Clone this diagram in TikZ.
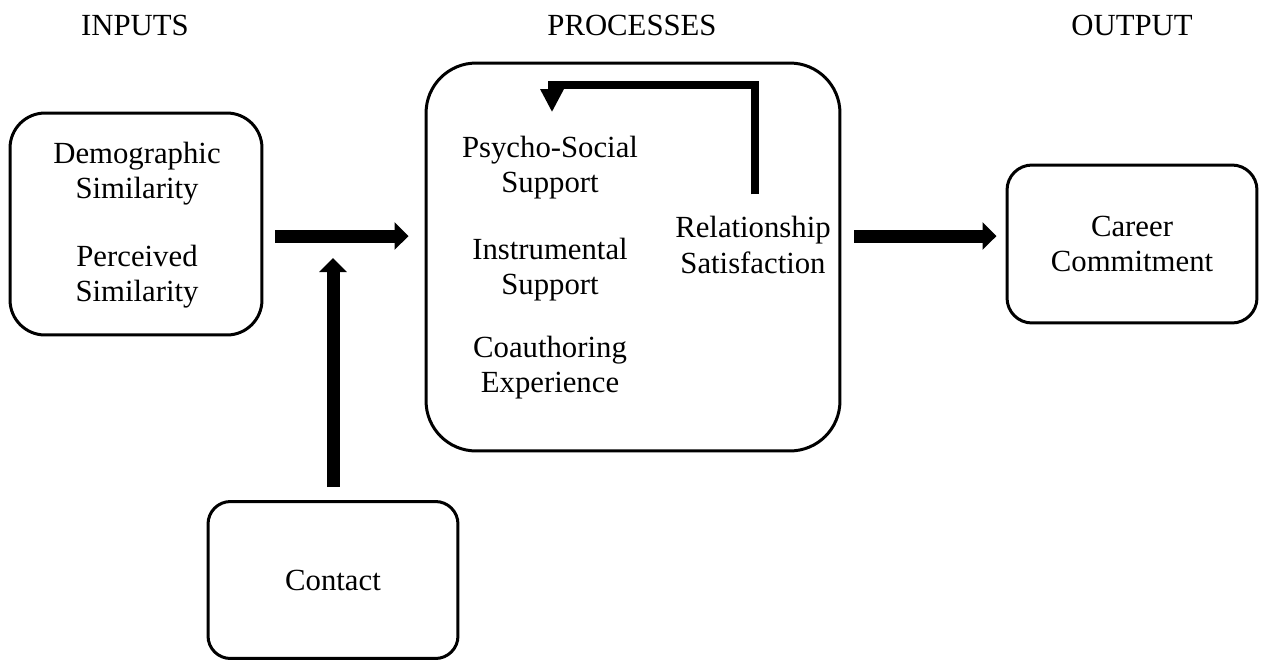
\documentclass[tikz,border=0pt]{standalone}
\usepackage{fontspec}
\setmainfont{Liberation Serif}
\usepackage{tikz}
\usetikzlibrary{arrows.meta, positioning, calc}

\begin{document}
\begin{tikzpicture}[
    x=0.02cm, y=-0.02cm,
    box_node/.style={rectangle, draw=black, line width=0.06cm, align=center, font=\fontsize{17.5}{20}\selectfont},
    text_node/.style={inner sep=0pt, align=center, font=\fontsize{17.5}{20}\selectfont},
    big_arrow/.style={-{Triangle[length=0.28cm, width=0.54cm]}, line width=0.26cm},
    loop_arrow/.style={-{Triangle[length=0.46cm, width=0.44cm]}, line width=0.16cm}
]
\useasboundingbox (0,0) rectangle (1267,660);

% Headings
\node[text_node] (h_in) at (135,25) {INPUTS};
\node[text_node] (h_proc) at (632,25) {PROCESSES};
\node[text_node] (h_out) at (1132,25) {OUTPUT};

% Inputs
\node[box_node, rounded corners=0.7cm, minimum width=5.04cm, minimum height=4.44cm] (inputs) at (136,224) {};
\node[text_node] (demo) at (137,174) {Demographic\\Similarity};
\node[text_node] (perc) at (137,277) {Perceived\\Similarity};

\node[box_node, rounded corners=0.45cm, minimum width=5.0cm, minimum height=3.14cm] (contact) at (333,580) {Contact};

% Processes
\node[box_node, rounded corners=1cm, minimum width=8.28cm, minimum height=7.76cm] (procs) at (633,257) {};
\node[text_node] (psycho) at (550,168) {Psycho-Social\\Support};
\node[text_node] (instr) at (550,270) {Instrumental\\Support};
\node[text_node] (coauth) at (550,368) {Coauthoring\\Experience};
\node[text_node] (rel) at (753,245) {Relationship\\Satisfaction};

% Output
\node[box_node, rounded corners=0.5cm, minimum width=5.0cm, minimum height=3.16cm] (output) at (1132,244) {Career\\Commitment};

% Connections
\coordinate (join) at (333,236);
\coordinate (fbtop) at (0,85);
\draw[big_arrow] ([xshift=0.24cm]inputs.east |- join) -- ([xshift=-0.32cm]procs.west |- join);
\draw[big_arrow] ([yshift=0.26cm]contact.north) -- ([yshift=-0.44cm]join);
\draw[big_arrow] ([xshift=0.26cm]procs.east |- join) -- ([xshift=-0.18cm]output.west |- join);
\draw[loop_arrow] ([xshift=0.04cm, yshift=0.44cm]rel.north) -- ([xshift=0.04cm]rel.north |- fbtop) -- ([xshift=0.04cm]psycho.north |- fbtop) -- ([xshift=0.04cm, yshift=0.48cm]psycho.north);

\end{tikzpicture}
\end{document}
